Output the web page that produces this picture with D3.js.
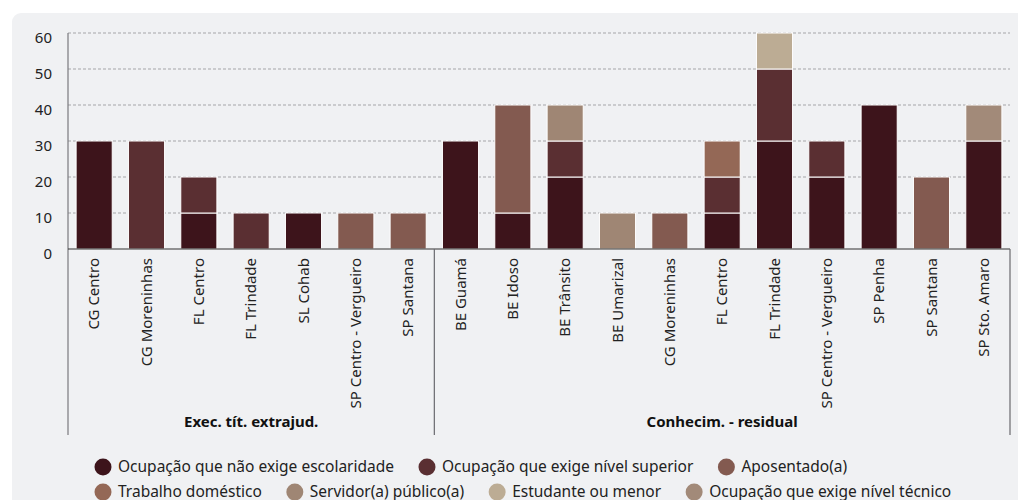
<!DOCTYPE html>
<html>
<head>
<meta charset="utf-8">
<script src="https://cdn.jsdelivr.net/npm/d3@7"></script>
<style>
  body { margin: 0; background: #fff; }
  svg { display: block; font-family: "Noto Sans", sans-serif; }
</style>
</head>
<body>
<svg id="chart"></svg>
<script>
// categories (group, office)
var groups = ["Exec. tít. extrajud.", "Conhecim. - residual"];
var offices = [
  ["CG Centro", "CG Moreninhas", "FL Centro", "FL Trindade", "SL Cohab", "SP Centro - Vergueiro", "SP Santana"],
  ["BE Guamá", "BE Idoso", "BE Trânsito", "BE Umarizal", "CG Moreninhas", "FL Centro", "FL Trindade",
   "SP Centro - Vergueiro", "SP Penha", "SP Santana", "SP Sto. Amaro"]
];

var seriesNames = ["Ocupação que não exige escolaridade", "Ocupação que exige nível superior", "Aposentado(a)",
  "Trabalho doméstico", "Servidor(a) público(a)", "Estudante ou menor", "Ocupação que exige nível técnico"];
var seriesColors = ["#3d141b", "#5a2f32", "#835a50", "#946856", "#9f8674", "#bcac94", "#a28a79"];

// values per series, in category order (7 exec + 11 residual)
var naoExige   = [30, 0, 10, 0, 10, 0, 0,   30, 10, 20, 0, 0, 10, 30, 20, 40, 0, 30];
var superior   = [0, 30, 10, 10, 0, 0, 0,   0, 0, 10, 0, 0, 10, 20, 10, 0, 0, 0];
var aposentado = [0, 0, 0, 0, 0, 10, 10,    0, 30, 0, 0, 10, 0, 0, 0, 0, 20, 0];
var domestico  = [0, 0, 0, 0, 0, 0, 0,      0, 0, 0, 0, 0, 10, 0, 0, 0, 0, 0];
var servidor   = [0, 0, 0, 0, 0, 0, 0,      0, 0, 10, 10, 0, 0, 0, 0, 0, 0, 0];
var estudante  = [0, 0, 0, 0, 0, 0, 0,      0, 0, 0, 0, 0, 0, 10, 0, 0, 0, 0];
var tecnico    = [0, 0, 0, 0, 0, 0, 0,      0, 0, 0, 0, 0, 0, 0, 0, 0, 0, 10];

var yTicks = [0, 10, 20, 30, 40, 50, 60];

var width = 1018, height = 500;
var plotLeft = 68, plotRight = 1010, plotTop = 33, plotBase = 249, plotBottom = 435;

var svg = d3.select("#chart").attr("width", width).attr("height", height);

svg.append("rect")
  .attr("x", 12).attr("y", 13)
  .attr("width", 1030).attr("height", 520)
  .attr("rx", 9)
  .attr("fill", "#f0f1f3");

var cats = [];
offices.forEach(function(list, gi) {
  list.forEach(function(name) {
    cats.push({ key: gi + "|" + name, name: name, group: gi });
  });
});

var rows = cats.map(function(c, i) {
  return {
    key: c.key,
    s0: naoExige[i], s1: superior[i], s2: aposentado[i], s3: domestico[i],
    s4: servidor[i], s5: estudante[i], s6: tecnico[i]
  };
});

var x = d3.scaleBand()
  .domain(cats.map(function(d) { return d.key; }))
  .range([plotLeft, plotRight])
  .paddingInner(0.31)
  .paddingOuter(0.155);

var y = d3.scaleLinear().domain([0, 60]).range([plotBase, plotTop]);

// gridlines
svg.append("g")
  .selectAll("line")
  .data(yTicks.filter(function(t) { return t > 0; }))
  .enter().append("line")
  .attr("x1", plotLeft).attr("x2", plotRight)
  .attr("y1", function(d) { return y(d); })
  .attr("y2", function(d) { return y(d); })
  .attr("stroke", "#a5a5a8")
  .attr("stroke-width", 1)
  .attr("stroke-dasharray", "3,2");

// y tick labels
var yAxis = svg.append("g")
  .attr("transform", "translate(" + plotLeft + ",0)")
  .call(d3.axisLeft(y).tickValues(yTicks).tickSize(0).tickPadding(16));
yAxis.select(".domain").remove();
yAxis.selectAll("text")
  .attr("y", 5)
  .attr("fill", "#222")
  .style("font-size", "15px")
  .style("font-family", "'Noto Sans', sans-serif");

// stacked bars
var keys = ["s0", "s1", "s2", "s3", "s4", "s5", "s6"];
var stacked = d3.stack().keys(keys)(rows);

svg.append("g")
  .selectAll("g")
  .data(stacked)
  .enter().append("g")
  .attr("fill", function(d, i) { return seriesColors[i]; })
  .selectAll("rect")
  .data(function(d) { return d.filter(function(p) { return p[1] - p[0] > 0; }); })
  .enter().append("rect")
  .attr("x", function(d) { return x(d.data.key); })
  .attr("width", x.bandwidth())
  .attr("y", function(d) { return y(d[1]); })
  .attr("height", function(d) { return y(d[0]) - y(d[1]); })
  .attr("stroke", "#fff")
  .attr("stroke-width", 1);

// axis lines
svg.append("line")
  .attr("x1", plotLeft).attr("x2", plotLeft)
  .attr("y1", plotTop).attr("y2", plotBottom)
  .attr("stroke", "#7a7a7e").attr("stroke-width", 1.2);

svg.append("line")
  .attr("x1", plotLeft).attr("x2", plotRight)
  .attr("y1", plotBase).attr("y2", plotBase)
  .attr("stroke", "#333").attr("stroke-width", 1.2);

// group separators
var sepX = [plotLeft + x.step() * offices[0].length, plotRight];
svg.append("g")
  .selectAll("line")
  .data(sepX)
  .enter().append("line")
  .attr("x1", function(d) { return d; }).attr("x2", function(d) { return d; })
  .attr("y1", plotBase).attr("y2", plotBottom)
  .attr("stroke", "#6a6a6e").attr("stroke-width", 1.2);

// category labels
svg.append("g")
  .selectAll("text")
  .data(cats)
  .enter().append("text")
  .attr("transform", function(d) {
    return "translate(" + (x(d.key) + x.bandwidth() / 2) + "," + (plotBase + 9) + ") rotate(-90)";
  })
  .attr("text-anchor", "end")
  .attr("dy", "0.35em")
  .attr("fill", "#222")
  .style("font-size", "15px")
  .text(function(d) { return d.name; });

// group labels
var groupEdges = [plotLeft, sepX[0], plotRight];
svg.append("g")
  .selectAll("text")
  .data(groups)
  .enter().append("text")
  .attr("x", function(d, i) { return (groupEdges[i] + groupEdges[i + 1]) / 2; })
  .attr("y", 427)
  .attr("text-anchor", "middle")
  .attr("fill", "#111")
  .style("font-size", "15px")
  .style("font-weight", "bold")
  .text(function(d) { return d; });

// legend
var legendRows = [[0, 1, 2], [3, 4, 5, 6]];
var rowY = [467, 492];
var legend = svg.append("g");
legendRows.forEach(function(row, ri) {
  var cx = 103;
  row.forEach(function(si) {
    legend.append("circle")
      .attr("cx", cx).attr("cy", rowY[ri])
      .attr("r", 8.5)
      .attr("fill", seriesColors[si]);
    var t = legend.append("text")
      .attr("x", cx + 15).attr("y", rowY[ri])
      .attr("dy", "0.35em")
      .attr("fill", "#222")
      .style("font-size", "15.5px")
      .text(seriesNames[si]);
    cx = cx + 15 + t.node().getComputedTextLength() + 33;
  });
});
</script>
</body>
</html>
